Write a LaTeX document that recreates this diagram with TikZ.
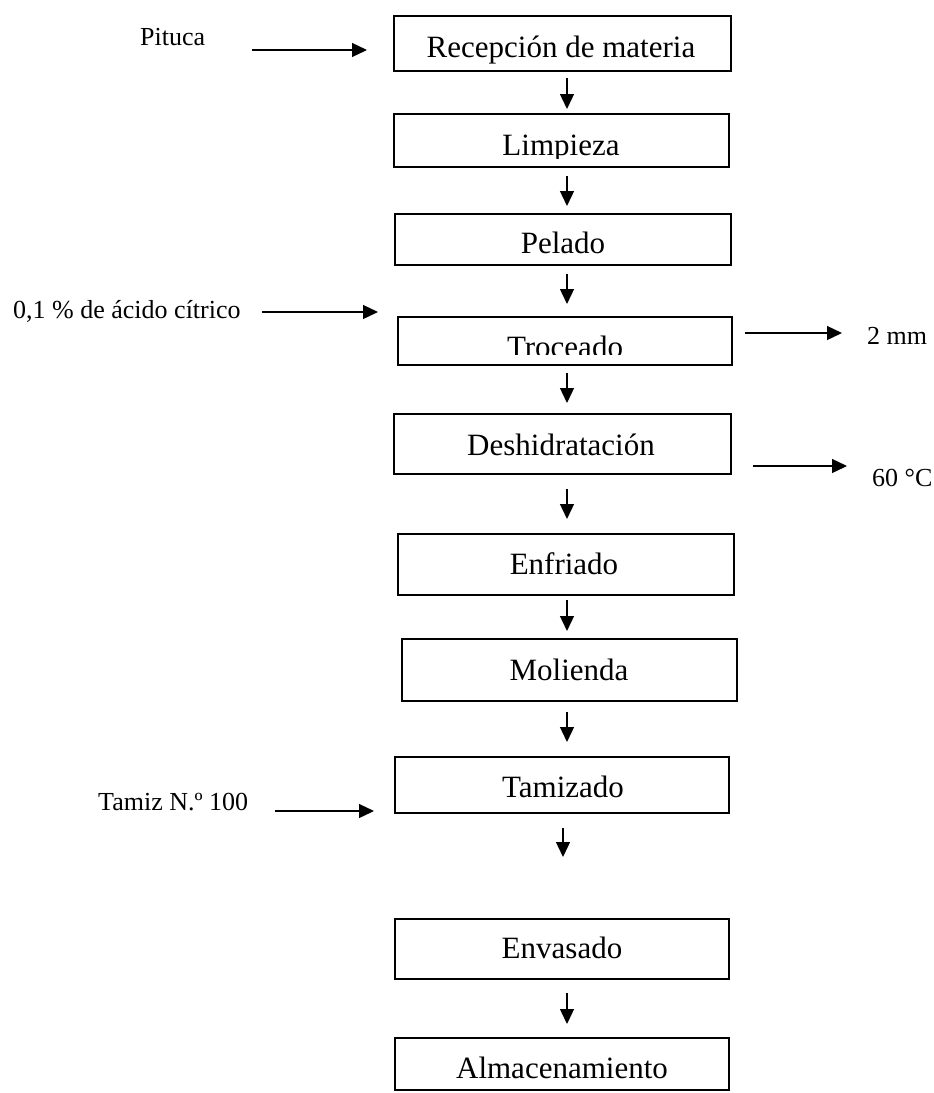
\documentclass[tikz,border=0pt]{standalone}
\usepackage{fontspec}
\setmainfont{Liberation Serif}
\usetikzlibrary{arrows.meta}
\begin{document}
\begin{tikzpicture}[x=1pt,y=-1pt,
  stepbox/.style={draw, line width=2pt, inner sep=0pt},
  steptext/.style={anchor=base, inner sep=0pt, font=\fontsize{31}{36}\selectfont},
  note/.style={anchor=base west, inner sep=0pt, font=\fontsize{26}{30}\selectfont},
  flow/.style={line width=1.3pt, -{Triangle[length=15pt,width=14pt]}},
]
\useasboundingbox (0,0) rectangle (934,1093);

% process steps
\node[stepbox, minimum width=337pt, minimum height=55pt] (b1) at (562.5,43.5) {};
\node[stepbox, minimum width=335pt, minimum height=53pt] (b2) at (561.5,140.5) {};
\node[stepbox, minimum width=336pt, minimum height=51pt] (b3) at (563,239.5) {};
\node[stepbox, minimum width=334pt, minimum height=48pt] (b4) at (565,341) {};
\node[stepbox, minimum width=337pt, minimum height=60pt] (b5) at (562.5,444) {};
\node[stepbox, minimum width=336pt, minimum height=61pt] (b6) at (566,564.5) {};
\node[stepbox, minimum width=335pt, minimum height=62pt] (b7) at (569.5,670) {};
\node[stepbox, minimum width=334pt, minimum height=56pt] (b8) at (562,785) {};
\node[stepbox, minimum width=334pt, minimum height=60pt] (b9) at (562,949) {};
\node[stepbox, minimum width=334pt, minimum height=52pt] (b10) at (562,1064) {};

% step captions (two of them are cut off at the bottom of their text frame)
\node[steptext] (t1) at (561,57) {Recepción de materia};
\begin{scope}
  \clip (393,113) rectangle (730,158);
  \node[steptext] (t2) at (561,155) {Limpieza};
\end{scope}
\node[steptext] (t3) at (563,253) {Pelado};
\begin{scope}
  \clip (397,316) rectangle (733,354.5);
  \node[steptext] (t4) at (565,357) {Troceado};
\end{scope}
\node[steptext] (t5) at (561,455) {Deshidratación};
\node[steptext] (t6) at (564,574) {Enfriado};
\node[steptext] (t7) at (569,680) {Molienda};
\node[steptext] (t8) at (563,797) {Tamizado};
\node[steptext] (t9) at (562,958) {Envasado};
\node[steptext] (t10) at (562,1078) {Almacenamiento};

% main flow
\coordinate (ax) at (567,0);
\coordinate (bx) at (563,0);
\draw[flow, shorten <=6pt, shorten >=4pt]  (b1.south -| ax) -- (b2.north -| ax);
\draw[flow, shorten <=8pt, shorten >=7pt]  (b2.south -| ax) -- (b3.north -| ax);
\draw[flow, shorten <=8pt, shorten >=12pt] (b3.south -| ax) -- (b4.north -| ax);
\draw[flow, shorten <=7pt, shorten >=10pt] (b4.south -| ax) -- (b5.north -| ax);
\draw[flow, shorten <=14pt, shorten >=14pt] (b5.south -| ax) -- (b6.north -| ax);
\draw[flow, shorten <=4pt, shorten >=7pt]  (b6.south -| ax) -- (b7.north -| ax);
\draw[flow, shorten <=10pt, shorten >=14pt] (b7.south -| ax) -- (b8.north -| ax);
\draw[flow, shorten <=14pt, shorten >=61pt] (b8.south -| bx) -- (b9.north -| bx);
\draw[flow, shorten <=13pt, shorten >=13pt] (b9.south -| ax) -- (b10.north -| ax);

% side notes
\node[note] (n1) at (140,45) {Pituca};
\node[note] (n2) at (13,318) {0,1 \% de ácido cítrico};
\node[note] (n3) at (867,344) {2 mm};
\node[note] (n4) at (872,486) {60 °C};
\node[note] (n5) at (98,810) {Tamiz N.º 100};

\coordinate (p0) at (252,50);
\draw[flow, shorten >=26pt] (p0) -- (p0 -| b1.west);
\coordinate (c0) at (262,312);
\coordinate (c1) at (378,312);
\draw[flow] (c0) -- (c1);
\coordinate (m1) at (842,333);
\draw[flow, shorten <=12pt] (b4.east |- m1) -- (m1);
\coordinate (h1) at (847,466);
\draw[flow, shorten <=21pt] (b5.east |- h1) -- (h1);
\coordinate (s0) at (275,811);
\draw[flow, shorten >=20pt] (s0) -- (s0 -| b8.west);
\end{tikzpicture}
\end{document}
